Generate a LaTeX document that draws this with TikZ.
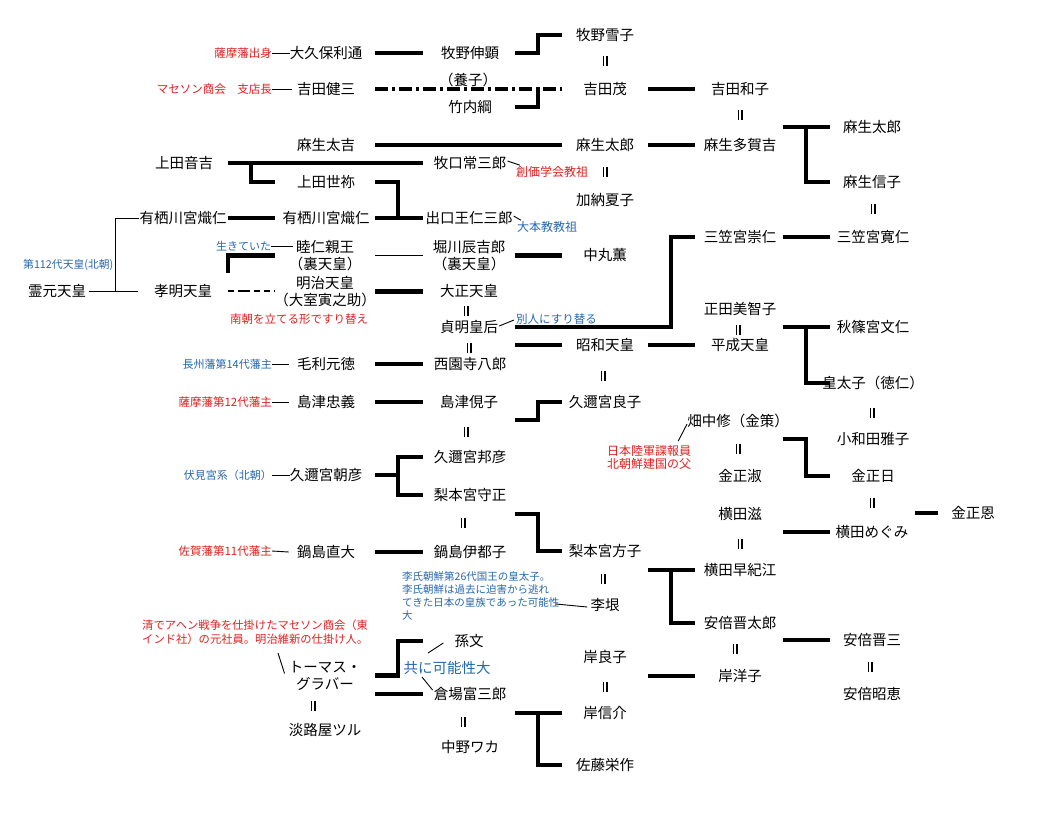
\documentclass[tikz,border=0pt]{standalone}
\usepackage{fontspec}
\setmainfont{Noto Sans CJK JP}
\usetikzlibrary{calc}
\definecolor{noteRed}{RGB}{222,34,34}
\definecolor{noteBlue}{RGB}{38,104,172}
\tikzset{
  marry/.pic={\draw[line width=1.4pt] (-1.8,-5) -- (-1.8,5) (1.8,-5) -- (1.8,5);},
}
\begin{document}
\begin{tikzpicture}[x=1pt,y=-1pt,
  nm/.style={inner sep=0pt, align=center, text=black, font=\fontsize{14.5}{17}\selectfont},
  rn/.style={inner sep=0pt, text=noteRed, font=\fontsize{11.5}{14}\selectfont},
  bn/.style={inner sep=0pt, text=noteBlue, font=\fontsize{11}{13}\selectfont},
  bond/.style={line width=4.5pt},
  leader/.style={line width=0.9pt},
]
\fill[white] (0,0) rectangle (1051,812);
\path[use as bounding box] (0,0) rectangle (1051,812);

% column line positions
\coordinate (mR) at (115,0); \coordinate (xS) at (138,0);
\coordinate (xP) at (228,0); \coordinate (xQ) at (275,0); \coordinate (mP) at (251,0);
\coordinate (xA) at (375,0); \coordinate (xB) at (423,0); \coordinate (mA) at (398,0);
\coordinate (xC) at (515,0); \coordinate (xD) at (562,0); \coordinate (mC) at (538,0);
\coordinate (xE) at (648,0); \coordinate (xF) at (695,0); \coordinate (mE) at (671,0);
\coordinate (xG) at (783,0); \coordinate (xH) at (830,0); \coordinate (mG) at (806,0);
\coordinate (xI) at (915,0); \coordinate (xJ) at (938,0);

% ---- names ----
\node[nm] (reigen) at (57,291) {霊元天皇};
\node[nm] (otokichi) at (184,163) {上田音吉};
\node[nm] (arisuL) at (183,218) {有栖川宮熾仁};
\node[nm] (komei) at (183,291) {孝明天皇};

\node[nm] (okubo) at (326,53) {大久保利通};
\node[nm] (kenzo) at (326,89) {吉田健三};
\node[nm] (takichi) at (326,145) {麻生太吉};
\node[nm] (seya) at (326,182) {上田世祢};
\node[nm] (arisuR) at (326,218) {有栖川宮熾仁};
\node[nm] (mutsuhito) at (325,255.5) {睦仁親王\\（裏天皇）};
\node[nm] (meiji) at (325,291.5) {明治天皇\\（大室寅之助）};
\node[nm] (mori) at (326,364) {毛利元徳};
\node[nm] (tadayoshi) at (326,402) {島津忠義};
\node[nm] (asahiko) at (326,475) {久邇宮朝彦};
\node[nm] (naohiro) at (326,552) {鍋島直大};
\node[nm] (glover) at (325,675.5) {トーマス・\\グラバー};
\node[nm] (tsuru) at (325,730) {淡路屋ツル};

\node[nm] (makinoN) at (470,53) {牧野伸顕};
\node[nm] (yoshi) at (468,80) {（養子）};
\node[nm] (takeuchi) at (470,107) {竹内綱};
\node[nm] (makiguchi) at (470,163) {牧口常三郎};
\node[nm] (deguchi) at (469,218) {出口王仁三郎};
\node[nm] (horikawa) at (469,255.5) {堀川辰吉郎\\（裏天皇）};
\node[nm] (taisho) at (469,291) {大正天皇};
\node[nm] (teimei) at (469,327) {貞明皇后};
\node[nm] (saionji) at (470,364) {西園寺八郎};
\node[nm] (shimazuK) at (469,402) {島津俔子};
\node[nm] (kuniyoshi) at (470,457) {久邇宮邦彦};
\node[nm] (morimasa) at (470,495) {梨本宮守正};
\node[nm] (itsuko) at (470,552) {鍋島伊都子};
\node[nm] (sonbun) at (469,641) {孫文};
\node[nm, text=noteBlue] (kyobai) at (447,668) {共に可能性大};
\node[nm] (kuraba) at (470,694) {倉場富三郎};
\node[nm] (waka) at (470,747) {中野ワカ};

\node[nm] (yukiko) at (605,35) {牧野雪子};
\node[nm] (shigeru) at (605,89) {吉田茂};
\node[nm] (taroM) at (605,145) {麻生太郎};
\node[nm] (natsuko) at (605,200) {加納夏子};
\node[nm] (kaoru) at (605,255) {中丸薫};
\node[nm] (showa) at (605,345) {昭和天皇};
\node[nm] (nagako) at (605,402) {久邇宮良子};
\node[nm] (masako) at (605,551) {梨本宮方子};
\node[nm] (rigin) at (605,605) {李垠};
\node[nm] (yoshiko) at (605,657) {岸良子};
\node[nm] (nobusuke) at (605,713) {岸信介};
\node[nm] (eisaku) at (605,765) {佐藤栄作};

\node[nm] (kazuko) at (740,89) {吉田和子};
\node[nm] (tagakichi) at (740,145) {麻生多賀吉};
\node[nm] (mikasaT) at (740,237) {三笠宮崇仁};
\node[nm] (michiko) at (740,309) {正田美智子};
\node[nm] (heisei) at (740,345) {平成天皇};
\node[nm] (hatanaka) at (738,421) {畑中修（金策）};
\node[nm] (kimjs) at (740,476) {金正淑};
\node[nm] (shigeruY) at (740,514) {横田滋};
\node[nm] (sakie) at (740,570) {横田早紀江};
\node[nm] (shintaro) at (740,623) {安倍晋太郎};
\node[nm] (yoko) at (740,676) {岸洋子};

\node[nm] (taroR) at (872,127) {麻生太郎};
\node[nm] (nobuko) at (872,182) {麻生信子};
\node[nm] (tomohito) at (873,237) {三笠宮寛仁};
\node[nm] (fumihito) at (873,327) {秋篠宮文仁};
\node[nm] (naruhito) at (873,383) {皇太子（徳仁）};
\node[nm] (owada) at (873,439) {小和田雅子};
\node[nm] (kji) at (873,476) {金正日};
\node[nm] (megumi) at (872,532) {横田めぐみ};
\node[nm] (shinzo) at (872,640) {安倍晋三};
\node[nm] (akie) at (872,694) {安倍昭恵};
\node[nm] (kju) at (973,513) {金正恩};

% ---- notes ----
\node[rn, anchor=east] (satsuma) at (272,53) {薩摩藩出身};
\node[rn, anchor=east] (mathe) at (272,89) {マセソン商会　支店長};
\node[rn, anchor=west, font=\fontsize{12}{14}\selectfont] (soka) at (516,172) {創価学会教祖};
\node[bn, anchor=west, font=\fontsize{12}{14}\selectfont] (omoto) at (517,227) {大本教教祖};
\node[bn, anchor=west] (ikiteita) at (216,246) {生きていた};
\node[bn, anchor=west, font=\fontsize{10.8}{12}\selectfont] (n112) at (23,265) {第112代天皇(北朝)};
\node[rn] (nancho) at (299,319) {南朝を立てる形ですり替え};
\node[bn, anchor=west, font=\fontsize{11.5}{13}\selectfont] (betsujin) at (516,319) {別人にすり替る};
\node[bn, anchor=east] (choshu) at (272,364) {長州藩第14代藩主};
\node[rn, anchor=east] (satsuma12) at (272,402) {薩摩藩第12代藩主};
\node[bn, anchor=east] (fushimi) at (272,475) {伏見宮系（北朝）};
\node[rn, anchor=east] (saga) at (272,551) {佐賀藩第11代藩主};
\node[rn, align=center, font=\fontsize{12}{13.5}\selectfont] (spy) at (649,457.5) {日本陸軍諜報員\\北朝鮮建国の父};
\node[bn, anchor=west, align=left, font=\fontsize{10.5}{13}\selectfont] (riblock) at (402,596) {李氏朝鮮第26代国王の皇太子。\\李氏朝鮮は過去に迫害から逃れ\\てきた日本の皇族であった可能性\\大};
\node[rn, anchor=west, align=left, font=\fontsize{11.3}{14}\selectfont] (matheson) at (142,632) {清でアヘン戦争を仕掛けたマセソン商会（東\\インド社）の元社員。明治維新の仕掛け人。};

% ---- marriage marks ----
\foreach \p in {(605,61),(740,115),(605,172),(873,209),(466,311),(738,330),(469,348),(603,376),(872,413),(466,432),(738,449),(872,503),(463,523),(740,544),(603,579),(735,649),(605,687),(870,667),(313,706),(463,722)}
  \pic at \p {marry};

% ---- thick connectors ----
\draw[bond] (xA|-okubo) -- (xB|-okubo);
\draw[bond] (xC|-makinoN) -- (mC|-makinoN) -- (mC|-yukiko) -- (xD|-yukiko);
\draw[line width=4pt, dash pattern=on 13pt off 4pt on 3pt off 4pt] (xA|-kenzo) -- (xD|-kenzo);
\draw[bond] (xC|-takeuchi) -- (mC|-takeuchi) -- ($(mC|-shigeru)+(0,-2)$);
\draw[bond] (xE|-shigeru) -- (xF|-shigeru);
\draw[bond] (xA|-takichi) -- (xD|-takichi);
\draw[bond] (xE|-taroM) -- (xF|-taroM);
\draw[bond] (xG|-taroR) -- (xH|-taroR) (mG|-taroR) -- (mG|-nobuko) -- (xH|-nobuko);
\draw[bond] (xP|-otokichi) -- (xB|-otokichi) (mP|-otokichi) -- (mP|-seya) -- (xQ|-seya);
\draw[bond] (xA|-seya) -- (mA|-seya) -- (mA|-arisuR) (xA|-arisuR) -- (xB|-arisuR);
\draw[bond] (xP|-arisuL) -- (xQ|-arisuL);
\draw[bond] ($(xP|-mutsuhito)+(0,17)$) -- (xP|-mutsuhito) -- (xQ|-mutsuhito);
\draw[bond] (xC|-horikawa) -- (xD|-horikawa);
\draw[bond] (xA|-meiji) -- (xB|-meiji);
\draw[bond] (xC|-teimei) -- (mE|-teimei) -- (mE|-mikasaT) -- (xF|-mikasaT);
\draw[bond] (xG|-mikasaT) -- (xH|-mikasaT);
\draw[bond] (xA|-mori) -- (xB|-mori);
\draw[bond] (xC|-showa) -- (xD|-showa);
\draw[bond] (xE|-showa) -- (xF|-showa);
\draw[bond] (xG|-fumihito) -- (xH|-fumihito) (mG|-fumihito) -- (mG|-naruhito) -- (xH|-naruhito);
\draw[bond] (xA|-tadayoshi) -- (xB|-tadayoshi);
\draw[bond] ($(xC|-shimazuK)+(0,18)$) -- ($(mC|-shimazuK)+(0,18)$) -- (mC|-nagako) -- (xD|-nagako);
\draw[bond] (xG|-owada) -- (mG|-owada) -- (mG|-kji) -- (xH|-kji);
\draw[bond] (xA|-asahiko) -- (mA|-asahiko) (xB|-kuniyoshi) -- (mA|-kuniyoshi) -- (mA|-morimasa) -- (xB|-morimasa);
\draw[bond] (xG|-megumi) -- (xH|-megumi);
\draw[bond] (xI|-kju) -- (xJ|-kju);
\draw[bond] ($(xC|-morimasa)+(0,19)$) -- ($(mC|-morimasa)+(0,19)$) -- (mC|-masako) -- (xD|-masako);
\draw[bond] (xA|-naohiro) -- (xB|-naohiro);
\draw[bond] (xE|-sakie) -- (xF|-sakie) (mE|-sakie) -- (mE|-shintaro) -- (xF|-shintaro);
\draw[bond] (xG|-shinzo) -- (xH|-shinzo);
\draw[bond] (xE|-yoko) -- (xF|-yoko);
\draw[bond] (xC|-nobusuke) -- (xD|-nobusuke) (mC|-nobusuke) -- (mC|-eisaku) -- (xD|-eisaku);
\draw[bond] (xA|-glover) -- (mA|-glover) -- (mA|-sonbun) -- (xB|-sonbun);
\draw[bond] (xA|-kuraba) -- (xB|-kuraba);

% ---- thin connectors ----
\draw[leader] (xA|-mutsuhito) -- (xB|-mutsuhito);
\draw[line width=1.4pt, dash pattern=on 6pt off 4pt on 12pt off 4pt on 6pt off 4pt] (xP|-komei) -- (xQ|-komei);
\draw[leader] ($(reigen.east)+(3,0)$) -- (xS|-komei);
\draw[leader] (mR|-komei) -- (mR|-arisuL) -- (arisuL.west);
\draw[leader] (satsuma.east) -- (okubo.west);
\draw[leader] (mathe.east) -- ($(kenzo.west)+(-5,0)$);
\draw[leader] (ikiteita.east) -- ($(mutsuhito.west|-ikiteita.east)+(4,0)$);
\draw[leader] (choshu.east) -- ($(mori.west)+(-8,0)$);
\draw[leader] (satsuma12.east) -- ($(tadayoshi.west)+(-8,0)$);
\draw[leader] (fushimi.east) -- (asahiko.west);
\draw[leader] (saga.east) -- ($(naohiro.west)+(-8,0)$);
\draw[leader] ($(makiguchi.east)+(1,-2)$) -- ($(soka.north west)+(4,-1)$);
\draw[leader] ($(deguchi.east)+(1,-2)$) -- ($(omoto.north west)+(4,-1)$);
\draw[leader] ($(teimei.east)+(1,-1)$) -- ($(betsujin.west)+(-2,1)$);
\draw[leader] ($(hatanaka.west)+(0,3)$) -- ($(spy.north east)+(-13,-4)$);
\coordinate (riend) at (556,604);
\draw[leader] (riend) -- ($(rigin.west)+(-3,2)$);
\coordinate (k1) at (428,653);
\draw[leader] (k1) -- ($(sonbun.west)+(-11,2)$);
\coordinate (k2) at (422,677);
\draw[leader] (k2) -- ($(kuraba.west)+(-1,-4)$);
\coordinate (g1) at (278,653);
\draw[leader] (g1) -- ($(glover.west)+(-4,-2)$);
\end{tikzpicture}
\end{document}
